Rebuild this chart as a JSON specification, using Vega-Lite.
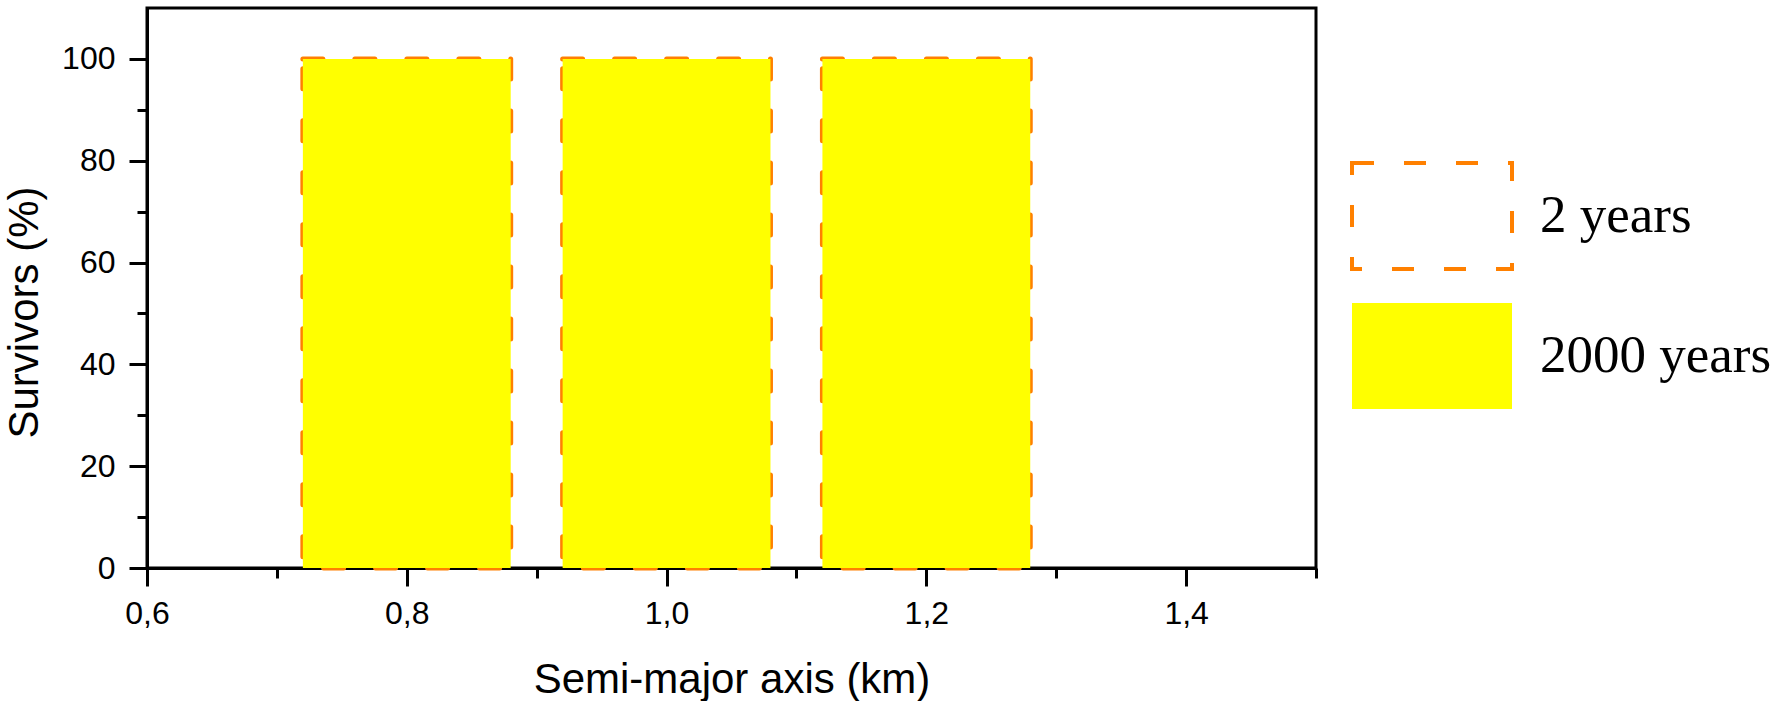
{
  "$schema": "https://vega.github.io/schema/vega-lite/v6.json",
  "width": 1169,
  "height": 560,
  "autosize": {"type": "none"},
  "padding": {"left": 147, "top": 8, "right": 460, "bottom": 133},
  "background": "white",
  "config": {
    "view": {"stroke": "black", "strokeWidth": 3},
    "axis": {
      "grid": false,
      "domainColor": "black",
      "domainWidth": 3,
      "tickColor": "black",
      "tickWidth": 3,
      "labelFont": "Liberation Sans",
      "labelFontSize": 32,
      "labelColor": "black",
      "titleFont": "Liberation Sans",
      "titleFontSize": 42,
      "titleFontWeight": "normal",
      "titleColor": "black",
      "zindex": 1
    },
    "legend": {
      "labelFont": "Liberation Serif",
      "labelFontSize": 53,
      "labelColor": "black",
      "labelLimit": 600,
      "padding": 0
    }
  },
  "data": {
    "values": [
      {"a_min": 0.72, "a_max": 0.88, "series": "2 years", "survivors": 100},
      {"a_min": 0.92, "a_max": 1.08, "series": "2 years", "survivors": 100},
      {"a_min": 1.12, "a_max": 1.28, "series": "2 years", "survivors": 100},
      {"a_min": 0.72, "a_max": 0.88, "series": "2000 years", "survivors": 100},
      {"a_min": 0.92, "a_max": 1.08, "series": "2000 years", "survivors": 100},
      {"a_min": 1.12, "a_max": 1.28, "series": "2000 years", "survivors": 100}
    ]
  },
  "layer": [
    {
      "transform": [{"filter": "datum.series == '2 years'"}],
      "mark": {"type": "bar", "fill": "transparent", "strokeWidth": 5, "strokeDash": [20, 32], "strokeCap": "round"},
      "encoding": {
        "x": {
          "field": "a_min",
          "type": "quantitative",
          "scale": {"domain": [0.6, 1.5], "nice": false, "zero": false},
          "axis": {
            "orient": "bottom",
            "title": "Semi-major axis (km)",
            "values": [0.6, 0.8, 1.0, 1.2, 1.4],
            "labelExpr": "replace(format(datum.value, '.1f'), '.', ',')",
            "tickSize": 18,
            "labelPadding": 12,
            "labelFlush": false,
            "labelOverlap": false,
            "titleBaseline": "alphabetic",
            "titleAlign": "center",
            "titleX": 584.5,
            "titleY": 124
          }
        },
        "x2": {"field": "a_max"},
        "y": {
          "field": "survivors",
          "type": "quantitative",
          "scale": {"domain": [0, 110], "nice": false},
          "axis": {
            "orient": "left",
            "title": "Survivors (%)",
            "values": [0, 20, 40, 60, 80, 100],
            "format": "d",
            "tickSize": 18,
            "labelPadding": 14,
            "labelFlush": false,
            "labelOverlap": false,
            "titleAngle": -90,
            "titleBaseline": "alphabetic",
            "titleAlign": "center",
            "titleX": -110,
            "titleY": 304
          }
        },
        "y2": {"datum": 0},
        "stroke": {
          "field": "series",
          "type": "nominal",
          "scale": {"domain": ["2 years"], "range": ["#FF8000"]},
          "legend": {
            "title": null,
            "orient": "none",
            "legendX": 1203,
            "legendY": 126,
            "symbolType": "M-1,-0.6625H1V0.6625H-1Z",
            "symbolSize": 25600,
            "symbolStrokeWidth": 4,
            "symbolDash": [22, 30],
            "symbolFillColor": "transparent",
            "labelOffset": 26,
            "encode": {
              "symbols": {
                "update": {
                  "fill": {"value": "transparent"},
                  "stroke": {"value": "#FF8000"},
                  "strokeDash": {"value": [22, 30]},
                  "strokeCap": {"value": "round"},
                  "strokeWidth": {"value": 4},
                  "opacity": {"value": 1}
                }
              }
            }
          }
        }
      }
    },
    {
      "transform": [{"filter": "datum.series == '2000 years'"}],
      "mark": {"type": "bar", "strokeWidth": 0},
      "encoding": {
        "x": {
          "field": "a_min",
          "type": "quantitative",
          "axis": {
            "orient": "bottom",
            "title": null,
            "values": [0.7, 0.9, 1.1, 1.3, 1.5],
            "labels": false,
            "domain": false,
            "tickSize": 10
          }
        },
        "x2": {"field": "a_max"},
        "y": {
          "field": "survivors",
          "type": "quantitative",
          "axis": {
            "orient": "left",
            "title": null,
            "values": [10, 30, 50, 70, 90],
            "labels": false,
            "domain": false,
            "tickSize": 10
          }
        },
        "y2": {"datum": 0},
        "fill": {
          "field": "series",
          "type": "nominal",
          "scale": {"domain": ["2000 years"], "range": ["#FFFF00"]},
          "legend": {
            "title": null,
            "orient": "none",
            "legendX": 1205,
            "legendY": 268,
            "symbolType": "M-1,-0.6625H1V0.6625H-1Z",
            "symbolSize": 25600,
            "symbolStrokeWidth": 0,
            "labelOffset": 28,
            "encode": {
              "symbols": {
                "update": {
                  "fill": {"value": "#FFFF00"},
                  "strokeWidth": {"value": 0},
                  "opacity": {"value": 1}
                }
              }
            }
          }
        }
      }
    }
  ],
  "resolve": {"axis": {"x": "independent", "y": "independent"}}
}
